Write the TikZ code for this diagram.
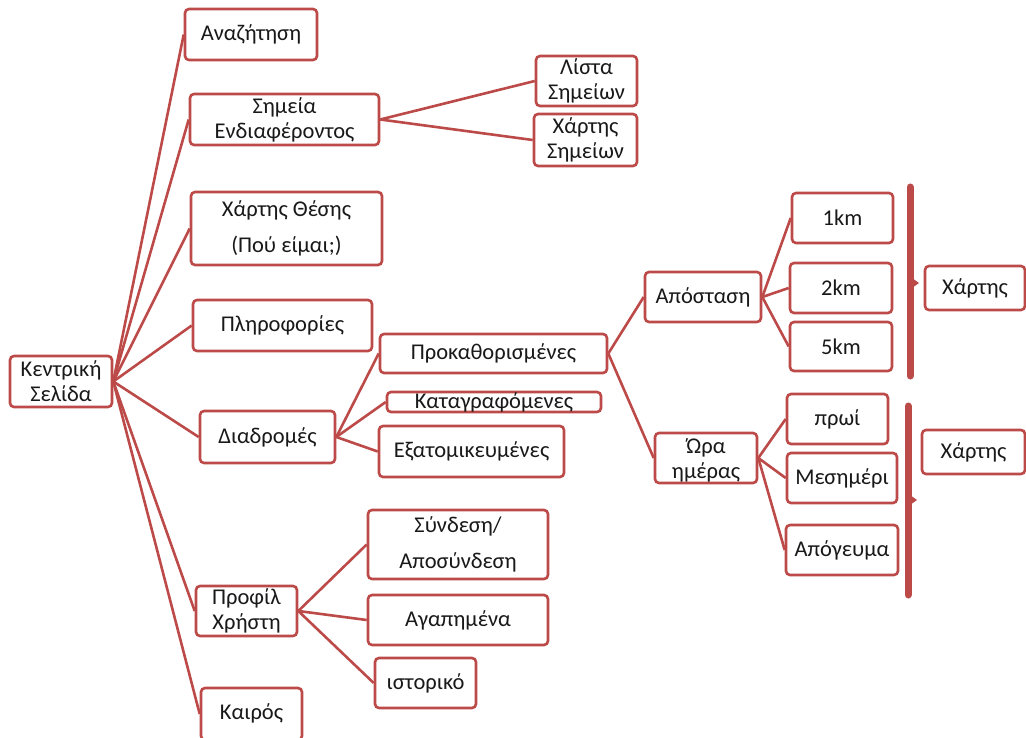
\documentclass[tikz,border=0pt]{standalone}
\usepackage{fontspec}
\setmainfont{Carlito}
\definecolor{brd}{RGB}{188,74,72}
\definecolor{ink}{RGB}{25,25,25}
\begin{document}
\begin{tikzpicture}[x=1pt,y=-1pt,
  box/.style={draw=brd, line width=2.6pt, rounded corners=4pt, fill=white, inner sep=0pt},
  txt/.style={align=center, text=ink, inner sep=0pt, font=\fontsize{22.5}{25}\selectfont},
  conn/.style={draw=brd, line width=2.6pt},
  brk/.style={draw=brd, line width=7pt, line cap=round}]
\useasboundingbox (0,0) rectangle (1026,738);
% boxes (empty), text placed separately
\node[box, minimum width=102pt, minimum height=51pt] (K) at (61,381.5) {};
\node[box, minimum width=132pt, minimum height=51pt] (A1) at (251,34.5) {};
\node[box, minimum width=189pt, minimum height=51pt] (A2) at (284.5,119.5) {};
\node[box, minimum width=191pt, minimum height=73pt] (A3) at (286.5,228.5) {};
\node[box, minimum width=179pt, minimum height=51pt] (A4) at (282.5,325.5) {};
\node[box, minimum width=135pt, minimum height=52pt] (A5) at (267.5,437) {};
\node[box, minimum width=101pt, minimum height=50pt] (A6) at (246.5,611) {};
\node[box, minimum width=101pt, minimum height=52pt] (A7) at (251.5,714) {};
\node[box, minimum width=101pt, minimum height=50pt] (L1) at (586.5,81) {};
\node[box, minimum width=103pt, minimum height=52pt] (L2) at (585.5,140) {};
\node[box, minimum width=227pt, minimum height=39pt] (D1) at (493.5,353.5) {};
\node[box, minimum width=214pt, minimum height=20pt] (D2) at (494,402) {};
\node[box, minimum width=185pt, minimum height=51pt] (D3) at (471.5,451.5) {};
\node[box, minimum width=180pt, minimum height=69pt] (P1) at (458,544.5) {};
\node[box, minimum width=180pt, minimum height=50pt] (P2) at (458,620) {};
\node[box, minimum width=101pt, minimum height=50pt] (P3) at (425.5,683) {};
\node[box, minimum width=116pt, minimum height=50pt] (R1) at (703,297) {};
\node[box, minimum width=102pt, minimum height=50pt] (R2) at (706,458) {};
\node[box, minimum width=101pt, minimum height=50pt] (K1) at (842.5,218) {};
\node[box, minimum width=102pt, minimum height=50pt] (K2) at (841,288) {};
\node[box, minimum width=102pt, minimum height=49pt] (K3) at (841,346.5) {};
\node[box, minimum width=101pt, minimum height=50pt] (T1) at (837.5,419) {};
\node[box, minimum width=110pt, minimum height=50pt] (T2) at (842,478) {};
\node[box, minimum width=112pt, minimum height=50pt] (T3) at (842,550) {};
\node[box, minimum width=100pt, minimum height=44pt] (M1) at (975,288) {};
\node[box, minimum width=103pt, minimum height=44pt] (M2) at (973.5,452) {};
% connectors (behind boxes)
\begin{scope}[on background layer/.try]
\end{scope}
\foreach \c in {A1,A2,A3,A4,A5,A6,A7}{\draw[conn] (K.east) -- (\c.west);}
\foreach \c in {L1,L2}{\draw[conn] (A2.east) -- (\c.west);}
\foreach \c in {D1,D2,D3}{\draw[conn] (A5.east) -- (\c.west);}
\foreach \c in {P1,P2,P3}{\draw[conn] (A6.east) -- (\c.west);}
\foreach \c in {R1,R2}{\draw[conn] (D1.east) -- (\c.west);}
\foreach \c in {K1,K2,K3}{\draw[conn] (R1.east) -- (\c.west);}
\foreach \c in {T1,T2,T3}{\draw[conn] (R2.east) -- (\c.west);}
% brackets
\draw[brk] (910,187) -- (910,376);
\fill[brd] (912,278) -- (919,283) -- (912,288) -- cycle;
\draw[brk] (908,406) -- (908,595);
\fill[brd] (910,495) -- (917,500) -- (910,505) -- cycle;
% texts
\node[txt] (tK) at (K) {Κεντρική\\Σελίδα};
\node[txt] (tA1) at (A1) {Αναζήτηση};
\node[txt] (tA2) at (A2) {Σημεία\\Ενδιαφέροντος};
\node[txt] (tA3) at (A3) {Χάρτης Θέσης\\[11pt](Πού είμαι;)};
\node[txt] (tA4) at (A4) {Πληροφορίες};
\node[txt] (tA5) at (A5) {Διαδρομές};
\node[txt] (tA6) at (A6) {Προφίλ\\Χρήστη};
\node[txt] (tA7) at (251.5,713) {Καιρός};
\node[txt] (tL1) at (L1) {Λίστα\\Σημείων};
\node[txt] (tL2) at (L2) {Χάρτης\\Σημείων};
\node[txt] (tD1) at (D1) {Προκαθορισμένες};
\node[txt] (tD2) at (D2) {Καταγραφόμενες};
\node[txt] (tD3) at (D3) {Εξατομικευμένες};
\node[txt] (tP1) at (P1) {Σύνδεση/\\[11pt]Αποσύνδεση};
\node[txt] (tP2) at (P2) {Αγαπημένα};
\node[txt] (tP3) at (P3) {ιστορικό};
\node[txt] (tR1) at (R1) {Απόσταση};
\node[txt] (tR2) at (706,460) {Ώρα\\ημέρας};
\node[txt] (tK1) at (K1) {1km};
\node[txt] (tK2) at (K2) {2km};
\node[txt] (tK3) at (K3) {5km};
\node[txt] (tT1) at (T1) {πρωί};
\node[txt] (tT2) at (T2) {Μεσημέρι};
\node[txt] (tT3) at (T3) {Απόγευμα};
\node[txt] (tM1) at (M1) {Χάρτης};
\node[txt] (tM2) at (M2) {Χάρτης};
\end{tikzpicture}
\end{document}
